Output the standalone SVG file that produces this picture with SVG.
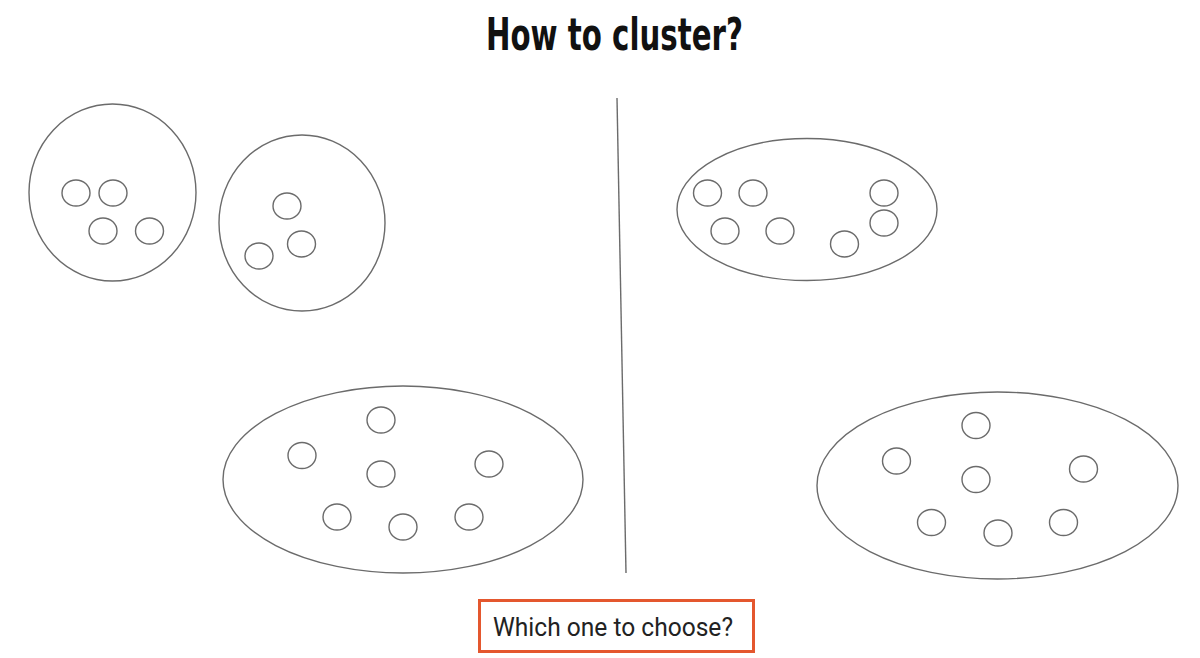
<svg xmlns="http://www.w3.org/2000/svg" width="1200" height="658" viewBox="0 0 1200 658">
<style>
.c{fill:none;stroke:#6b6b6b;stroke-width:1.4}
.p{fill:none;stroke:#6b6b6b;stroke-width:1.4}
.title{font-family:"DejaVu Sans Condensed","DejaVu Sans",sans-serif;font-weight:bold;font-size:44px;fill:#111}
.lbl{font-family:Roboto,"Liberation Sans",sans-serif;font-size:26px;fill:#222}
</style>
<rect width="1200" height="658" fill="#fff"/>
<text class="title" x="486" y="50" textLength="257" lengthAdjust="spacingAndGlyphs">How to cluster?</text>
<g id="divider"><line x1="617" y1="98" x2="626" y2="573" stroke="#6b6b6b" stroke-width="1.4"/></g>
<g id="left-cluster-a">
<ellipse class="c" cx="112.5" cy="192.5" rx="83.5" ry="88.5"/>
<ellipse class="p" cx="76" cy="193" rx="14" ry="13"/>
<ellipse class="p" cx="113" cy="193" rx="14" ry="13"/>
<ellipse class="p" cx="103" cy="231" rx="14" ry="13"/>
<ellipse class="p" cx="149.5" cy="231" rx="14" ry="13"/>
</g>
<g id="left-cluster-b">
<ellipse class="c" cx="302" cy="223" rx="83" ry="88"/>
<ellipse class="p" cx="287" cy="206" rx="14" ry="13"/>
<ellipse class="p" cx="301.5" cy="244" rx="14" ry="13"/>
<ellipse class="p" cx="259" cy="256" rx="14" ry="13"/>
</g>
<g id="left-cluster-c">
<ellipse class="c" cx="403" cy="479.5" rx="180" ry="93.5"/>
<ellipse class="p" cx="381" cy="420" rx="14" ry="13"/>
<ellipse class="p" cx="302" cy="455.5" rx="14" ry="13"/>
<ellipse class="p" cx="381" cy="474" rx="14" ry="13"/>
<ellipse class="p" cx="489" cy="464" rx="14" ry="13"/>
<ellipse class="p" cx="337" cy="517" rx="14" ry="13"/>
<ellipse class="p" cx="403" cy="527" rx="14" ry="13"/>
<ellipse class="p" cx="469" cy="517" rx="14" ry="13"/>
</g>
<g id="right-cluster-a">
<ellipse class="c" cx="807" cy="209.5" rx="130" ry="71"/>
<ellipse class="p" cx="707.5" cy="193" rx="14" ry="13"/>
<ellipse class="p" cx="753" cy="193" rx="14" ry="13"/>
<ellipse class="p" cx="884" cy="193" rx="14" ry="13"/>
<ellipse class="p" cx="725" cy="231" rx="14" ry="13"/>
<ellipse class="p" cx="780" cy="231" rx="14" ry="13"/>
<ellipse class="p" cx="844.5" cy="244" rx="14" ry="13"/>
<ellipse class="p" cx="884" cy="223" rx="14" ry="13"/>
</g>
<g id="right-cluster-b">
<ellipse class="c" cx="997.5" cy="485.5" rx="180.5" ry="93.5"/>
<ellipse class="p" cx="976" cy="425.5" rx="14" ry="13"/>
<ellipse class="p" cx="896.5" cy="461" rx="14" ry="13"/>
<ellipse class="p" cx="976" cy="479.5" rx="14" ry="13"/>
<ellipse class="p" cx="1083.5" cy="469" rx="14" ry="13"/>
<ellipse class="p" cx="931.5" cy="522.5" rx="14" ry="13"/>
<ellipse class="p" cx="998" cy="533" rx="14" ry="13"/>
<ellipse class="p" cx="1063.5" cy="522.5" rx="14" ry="13"/>
</g>
<g id="question">
<rect x="479.5" y="600.5" width="274" height="51" fill="#fff" stroke="#e4572e" stroke-width="3"/>
<text class="lbl" x="493" y="636" textLength="240" lengthAdjust="spacingAndGlyphs">Which one to choose?</text>
</g>
</svg>
